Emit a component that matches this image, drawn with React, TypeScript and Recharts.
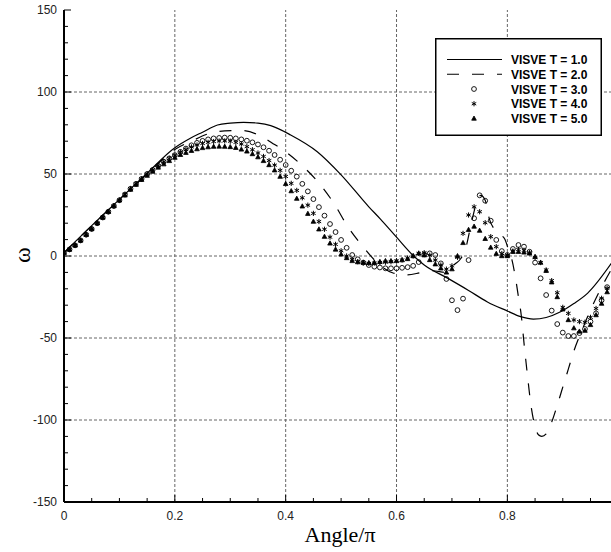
import { ComposedChart, Line, Scatter, XAxis, YAxis, ReferenceLine } from "recharts";

// marker abscissae (Angle/π)
const ANGLE = [
  0, 0.01, 0.02, 0.03, 0.04, 0.05, 0.06, 0.07, 0.08, 0.09,
  0.1, 0.11, 0.12, 0.13, 0.14, 0.15, 0.16, 0.17, 0.18, 0.19,
  0.2, 0.21, 0.22, 0.23, 0.24, 0.25, 0.26, 0.27, 0.28, 0.29,
  0.3, 0.31, 0.32, 0.33, 0.34, 0.35, 0.36, 0.37, 0.38, 0.39,
  0.4, 0.41, 0.42, 0.43, 0.44, 0.45, 0.46, 0.47, 0.48, 0.49,
  0.5, 0.51, 0.52, 0.53, 0.54, 0.55, 0.56, 0.57, 0.58, 0.59,
  0.6, 0.61, 0.62, 0.63, 0.64, 0.65, 0.66, 0.67, 0.68, 0.69,
  0.7, 0.71, 0.72, 0.73, 0.74, 0.75, 0.76, 0.77, 0.78, 0.79,
  0.8, 0.81, 0.82, 0.83, 0.84, 0.85, 0.86, 0.87, 0.88, 0.89,
  0.9, 0.91, 0.92, 0.93, 0.94, 0.95, 0.96, 0.97, 0.98,
];

const T3 = [
  2, 4, 6.5, 9.5, 13, 16.5, 20, 23.5, 27, 30.5,
  34, 37.5, 41, 44, 47, 50, 52.5, 55, 57.5, 59.5,
  61.5, 63.5, 65.5, 67.5, 69, 70.2, 71.1, 71.7, 72, 72.2,
  72.1, 71.7, 71.1, 70.3, 69.3, 68, 66.3, 64.2, 61.6, 58.7,
  55.5, 52, 48.4, 44, 39.4, 34.7, 29.8, 24.6, 19.5, 14.6,
  9.8, 5, 0.6, -2, -4, -5.5, -6.5, -7, -7.5, -7.5,
  -7.5, -7.2, -6.8, -6, -3.7, 1, 1.6, 0.6, -4.5, -14,
  -27, -33, -26, -2.5, 23, 37, 33.7, 21.5, 9.8, 3,
  0.6, 4.3, 6.7, 5.7, 2.6, -4, -13.6, -23.8, -33.3, -41.5,
  -46.7, -48.8, -48.8, -47, -44.5, -40, -35, -27, -19,
];

const T4 = [
  2, 4, 6.5, 9.5, 13, 16.5, 20, 23.5, 27, 30.5,
  34, 37.5, 41, 44, 47, 50, 52.5, 55, 57.5, 59.5,
  61.5, 63.3, 65, 66.5, 67.7, 68.6, 69.3, 69.8, 70.1, 70.2,
  70, 69.3, 68.3, 66.7, 64.8, 62.8, 60.7, 58.2, 55.4, 52.2,
  48.5, 44.3, 40, 35.5, 31, 26, 21, 16.3, 11.5, 7.1,
  3.2, 0, -2, -3.5, -4.2, -4.5, -4.3, -4, -3.8, -3.5,
  -3, -2.4, -1.2, 0, 1.6, 2, 0.5, -2.5, -5.5, -8,
  -6, -0.8, 13.8, 25, 30, 27, 20.3, 11.8, 5.7, 1.5,
  0.5, 3, 4, 3.5, 2, -1, -4, -8.5, -15, -22.4,
  -31.3, -35, -39, -40, -40.4, -37.4, -32, -25.8, -19.7,
];

const T5 = [
  2, 4, 6.5, 9.5, 13, 16.5, 20, 23.5, 27, 30.5,
  34, 37, 40.5, 43.5, 46.5, 49, 51.5, 54, 56, 58,
  60, 61.7, 63, 64.2, 65.2, 65.9, 66.4, 66.7, 66.8, 66.7,
  66.5, 66, 65, 63.8, 62.2, 60.3, 58, 55.5, 52.3, 48.4,
  44, 39.6, 35, 30.3, 25.8, 21, 16.3, 11.8, 7.7, 4,
  1, -1.2, -3, -3.7, -4, -4.2, -4, -3.5, -3, -3,
  -3, -2.5, -1.8, 0, 1.6, 0.5, -2.4, -5, -7.5, -10,
  -8, 0, 8, 16, 18, 15.5, 10.5, 5.2, 1.4, 0,
  0, 2.6, 2.6, 2.2, 1.6, -0.4, -4, -9, -16, -25,
  -32.5, -39, -44, -46, -45.5, -42, -36, -29, -22,
];

// T = 1.0 solid curve
const T1_X = [0, 0.05, 0.1, 0.15, 0.2, 0.228, 0.25, 0.277, 0.3, 0.324, 0.35, 0.373, 0.409, 0.457, 0.5, 0.55, 0.571, 0.6, 0.631, 0.65, 0.692, 0.73, 0.764, 0.8, 0.824, 0.847, 0.87, 0.896, 0.92, 0.945, 0.988];
const T1_Y = [2, 18.5, 34.5, 50.5, 66, 71.8, 75.5, 79.9, 81, 81.5, 81, 79.5, 73.8, 63.6, 49.5, 30, 22.5, 11.5, 0, -5.5, -13.5, -21, -28, -33.5, -37, -38.5, -37.5, -34, -29, -22.6, -4.3];

// T = 2.0 dashed curve
const T2_X = [0, 0.05, 0.1, 0.15, 0.2, 0.23, 0.26, 0.29, 0.32, 0.35, 0.38, 0.4, 0.43, 0.46, 0.49, 0.51, 0.54, 0.565, 0.595, 0.62, 0.645, 0.665, 0.69, 0.705, 0.715, 0.725, 0.735, 0.745, 0.752, 0.76, 0.768, 0.785, 0.795, 0.802, 0.808, 0.815, 0.82, 0.825, 0.83, 0.836, 0.843, 0.85, 0.856, 0.862, 0.87, 0.878, 0.89, 0.9, 0.91, 0.92, 0.935, 0.95, 0.97, 0.988];
const T2_Y = [2, 18.5, 34.5, 50, 65, 70, 74.5, 76.3, 76.5, 74, 68, 63.5, 55, 44.5, 30.5, 19, 5.5, -4, -10.5, -11.5, -10, -9, -10, -5, -2, 5, 20, 33, 37, 34, 22, 13.5, 10.5, 4, -2, -14, -25, -36, -53, -72, -92, -104, -109, -110, -108.5, -103, -91, -80, -69, -58, -45, -33, -19, -8];

const X_TICKS = [0, 0.05, 0.1, 0.15, 0.2, 0.25, 0.3, 0.35, 0.4, 0.45, 0.5, 0.55, 0.6, 0.65, 0.7, 0.75, 0.8, 0.85, 0.9, 0.95];
const X_MAJOR = [0, 0.2, 0.4, 0.6, 0.8];
const Y_TICKS = [-150, -140, -130, -120, -110, -100, -90, -80, -70, -60, -50, -40, -30, -20, -10, 0, 10, 20, 30, 40, 50, 60, 70, 80, 90, 100, 110, 120, 130, 140, 150];
const Y_MAJOR = [-150, -100, -50, 0, 50, 100, 150];
const X_GRID = [0.2, 0.4, 0.6, 0.8];
const Y_GRID = [-100, -50, 0, 50, 100];

const LEGEND = ["VISVE T = 1.0", "VISVE T = 2.0", "VISVE T = 3.0", "VISVE T = 4.0", "VISVE T = 5.0"];

const pts = (xs: number[], ys: number[]) => xs.map((x, i) => ({ x, y: ys[i] }));

const SANS = "Arial, 'Liberation Sans', sans-serif";
const SERIF = "'Times New Roman', 'Liberation Serif', serif";

function CircleMark({ cx, cy }: any) {
  return <circle cx={cx} cy={cy} r={2.4} fill="none" stroke="#000" strokeWidth={0.9} />;
}

function StarMark({ cx, cy }: any) {
  const r = 2.6;
  const a = r * 0.866;
  const b = r * 0.5;
  return (
    <g stroke="#000" strokeWidth={1}>
      <line x1={cx} y1={cy - r} x2={cx} y2={cy + r} />
      <line x1={cx - a} y1={cy - b} x2={cx + a} y2={cy + b} />
      <line x1={cx - a} y1={cy + b} x2={cx + a} y2={cy - b} />
    </g>
  );
}

function TriMark({ cx, cy }: any) {
  return (
    <polygon
      points={`${cx},${cy - 2.5} ${cx - 2.3},${cy + 1.7} ${cx + 2.3},${cy + 1.7}`}
      fill="#000"
      stroke="#000"
      strokeWidth={0.8}
    />
  );
}

function XTick({ x, y, payload }: any) {
  const major = X_MAJOR.includes(payload.value);
  return (
    <g>
      <line x1={x} x2={x} y1={y} y2={y - (major ? 7 : 4)} stroke="#000" strokeWidth={1} />
      {major && (
        <text x={x} y={y + 18} textAnchor="middle" fontSize={12} fontFamily={SANS} fill="#222">
          {String(payload.value)}
        </text>
      )}
    </g>
  );
}

function YTick({ x, y, payload }: any) {
  const major = Y_MAJOR.includes(payload.value);
  return (
    <g>
      <line x1={x} x2={x + (major ? 7 : 4)} y1={y} y2={y} stroke="#000" strokeWidth={1} />
      {major && (
        <text x={x - 7} y={y + 4} textAnchor="end" fontSize={12} fontFamily={SANS} fill="#222">
          {String(payload.value)}
        </text>
      )}
    </g>
  );
}

function LegendBox() {
  const rowY = (i: number) => 21.5 + i * 14.75;
  return (
    <svg width={167} height={98} style={{ position: "absolute", left: 435, top: 38 }}>
      <rect x={0.75} y={0.75} width={165.5} height={96.5} fill="#fff" stroke="#000" strokeWidth={1.5} />
      <line x1={12} x2={67} y1={rowY(0)} y2={rowY(0)} stroke="#000" strokeWidth={1.2} />
      <line x1={12} x2={67} y1={rowY(1)} y2={rowY(1)} stroke="#000" strokeWidth={1.2} strokeDasharray="12 13" />
      <CircleMark cx={39} cy={rowY(2)} />
      <StarMark cx={39} cy={rowY(3)} />
      <TriMark cx={39} cy={rowY(4)} />
      {LEGEND.map((t, i) => (
        <text key={t} x={76} y={rowY(i) + 4.5} fontSize={12} fontWeight="bold" fontFamily={SANS} fill="#000">
          {t}
        </text>
      ))}
    </svg>
  );
}

export default function App() {
  const t1 = pts(T1_X, T1_Y);
  const t2 = pts(T2_X, T2_Y);
  const t3 = pts(ANGLE, T3);
  const t4 = pts(ANGLE, T4);
  const t5 = pts(ANGLE, T5);

  return (
    <div style={{ position: "absolute", left: 0, top: 0, width: 611, height: 552, background: "#fff", overflow: "hidden" }}>
      <ComposedChart width={611} height={552} margin={{ top: 10, right: 0, bottom: 0, left: 0 }}>
        <XAxis
          type="number"
          dataKey="x"
          domain={[0, 0.987]}
          allowDataOverflow
          ticks={X_TICKS}
          interval={0}
          tickSize={0}
          tickMargin={0}
          tickLine={false}
          height={50}
          axisLine={{ stroke: "#000", strokeWidth: 2 }}
          tick={<XTick />}
        />
        <YAxis
          type="number"
          dataKey="y"
          domain={[-150, 150]}
          allowDataOverflow
          ticks={Y_TICKS}
          interval={0}
          tickSize={0}
          tickMargin={0}
          tickLine={false}
          width={64}
          axisLine={{ stroke: "#000", strokeWidth: 2 }}
          tick={<YTick />}
        />
        {X_GRID.map((v) => (
          <ReferenceLine key={"gx" + v} x={v} stroke="#666" strokeDasharray="3 2" strokeWidth={1} />
        ))}
        {Y_GRID.map((v) => (
          <ReferenceLine key={"gy" + v} y={v} stroke="#666" strokeDasharray="3 2" strokeWidth={1} />
        ))}
        <Line data={t1} dataKey="y" type="monotone" stroke="#000" strokeWidth={1.2} dot={false} isAnimationActive={false} />
        <Line data={t2} dataKey="y" type="monotone" stroke="#000" strokeWidth={1.2} strokeDasharray="12 13" dot={false} isAnimationActive={false} />
        <Scatter data={t3} dataKey="y" shape={<CircleMark />} isAnimationActive={false} />
        <Scatter data={t4} dataKey="y" shape={<StarMark />} isAnimationActive={false} />
        <Scatter data={t5} dataKey="y" shape={<TriMark />} isAnimationActive={false} />
      </ComposedChart>
      <LegendBox />
      <div style={{ position: "absolute", left: 240, width: 200, top: 522, textAlign: "center", fontFamily: SERIF, fontSize: 22, color: "#000", lineHeight: "26px" }}>
        Angle/π
      </div>
      <div style={{ position: "absolute", left: 7, top: 240, width: 30, height: 30, display: "flex", alignItems: "center", justifyContent: "center", fontFamily: SERIF, fontSize: 24, transform: "rotate(-90deg)" }}>
        ω
      </div>
    </div>
  );
}
